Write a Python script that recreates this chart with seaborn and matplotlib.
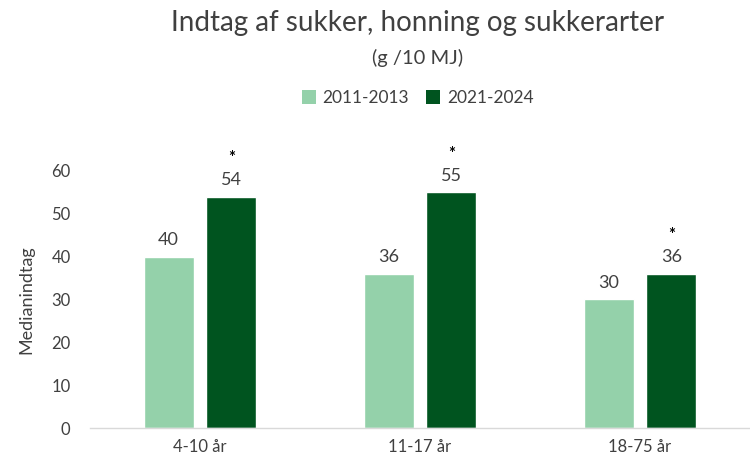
import matplotlib
matplotlib.use("Agg")
import matplotlib.pyplot as plt
import seaborn as sns
import pandas as pd
from matplotlib.patches import Patch

categories = ["4-10 år", "11-17 år", "18-75 år"]
periods = ["2011-2013", "2021-2024"]
values_2011 = [40, 36, 30]
values_2021 = [54, 55, 36]
significant_2021 = [True, True, True]

df = pd.DataFrame({
    "Alder": categories * 2,
    "Periode": [periods[0]] * 3 + [periods[1]] * 3,
    "Værdi": values_2011 + values_2021,
})

sns.set_theme(style="white")
plt.rcParams["font.family"] = ["Lato", "DejaVu Sans"]
text_color = "#404040"

fig = plt.figure(figsize=(7.5, 4.67), dpi=100)
ax = fig.add_axes([0.12, 0.0835, 0.88, 0.5505])

palette = {periods[0]: "#94D1AA", periods[1]: "#00541F"}
sns.barplot(data=df, x="Alder", y="Værdi", hue="Periode", palette=palette,
            width=0.572, gap=0.206, ax=ax, legend=False, saturation=1)

ax.set_xlim(-0.5, 2.5)
ax.set_ylim(0, 60)
ax.set_yticks(range(0, 61, 10))
ax.tick_params(axis="y", labelsize=12, labelcolor=text_color, length=0, pad=14)
ax.tick_params(axis="x", labelsize=12, labelcolor=text_color, length=0, pad=8)
ax.set_xlabel("")
ax.set_ylabel("Medianindtag", fontsize=13, color=text_color, labelpad=12)
for s in ["top", "right", "left"]:
    ax.spines[s].set_visible(False)
ax.spines["bottom"].set_color("#D9D9D9")
ax.spines["bottom"].set_linewidth(1)

for i, cont in enumerate(ax.containers):
    for j, bar in enumerate(cont):
        x = bar.get_x() + bar.get_width() / 2
        h = bar.get_height()
        ax.annotate(f"{h:.0f}", (x, h), xytext=(0, 6), textcoords="offset points",
                    ha="center", va="bottom", fontsize=13, color=text_color,
                    annotation_clip=False)
        if i == 1 and significant_2021[j]:
            ax.annotate("*", (x, h), xytext=(0, 22), textcoords="offset points",
                        ha="center", va="bottom", fontsize=12, color="black",
                        fontweight="bold", annotation_clip=False)

fig.text(0.557, 0.95, "Indtag af sukker, honning og sukkerarter", ha="center",
         va="center", fontsize=20, color=text_color)
fig.text(0.557, 0.875, "(g /10 MJ)", ha="center", va="center",
         fontsize=14.5, color=text_color)

handles = [Patch(facecolor=palette[p], edgecolor="none") for p in periods]
fig.legend(handles, periods, loc="center", bbox_to_anchor=(0.557, 0.79), ncol=2,
           frameon=False, fontsize=12.5, handlelength=0.8, handleheight=0.8,
           columnspacing=1.0, handletextpad=0.4, labelcolor=text_color)

fig.savefig("out.png", dpi=100)
